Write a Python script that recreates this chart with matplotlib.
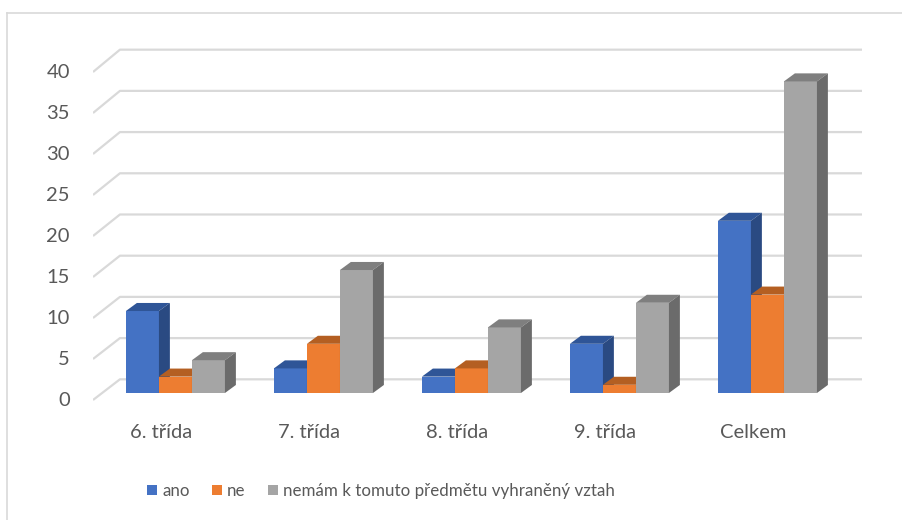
import numpy as np
import matplotlib
matplotlib.use("Agg")
from matplotlib import pyplot as plt
from matplotlib.patches import Polygon, Patch
from matplotlib.lines import Line2D

plt.rcParams['font.family'] = ['Lato', 'DejaVu Sans']

categories = ['6. třída', '7. třída', '8. třída', '9. třída', 'Celkem']
series = ['ano', 'ne', 'nemám k tomuto předmětu vyhraněný vztah']
ano = [10, 3, 2, 6, 21]
ne = [2, 6, 3, 1, 12]
nemam = [4, 15, 8, 11, 38]
values = [ano, ne, nemam]
yticks = [0, 5, 10, 15, 20, 25, 30, 35, 40]

front_cols = ['#4472C4', '#ED7D31', '#A5A5A5']
top_cols = ['#2F5597', '#B45F22', '#7F7F7F']
side_cols = ['#2A4A82', '#A9581F', '#6B6B6B']
text_col = '#595959'
grid_col = '#D9D9D9'

fig = plt.figure(figsize=(9.02, 5.2), dpi=100)
ax = fig.add_axes([93 / 902, 1 - 405 / 520, (862 - 93) / 902, (405 - 45) / 520])
ax.set_xlim(-0.557, 4.639)
ax.set_ylim(-1.463, 42.44)
ax.axis('off')

# 3d look: depth offsets in data units
dx, dy = 0.074, 0.98
w = 0.223

# gridlines on floor edge + back wall
for v in yticks:
    yb = 1.67 + v * 1.005
    yf = v - 0.854
    ax.plot([-0.557, -0.375, 4.639], [yf, yb, yb], color=grid_col, lw=1.6,
            zorder=1, solid_capstyle='butt')
    ax.text(-0.713, yf, str(v), ha='right', va='center', fontsize=14.5, color=text_col)

x = np.arange(len(categories))
for j, vals in enumerate(values):
    pos = x + (j - 1) * w
    ax.bar(pos, vals, width=w, color=front_cols[j], zorder=3 + j, linewidth=0)
    for p, h in zip(pos, vals):
        l, r = p - w / 2, p + w / 2
        ax.add_patch(Polygon([(l, h), (l + dx, h + dy), (r + dx, h + dy), (r, h)],
                             closed=True, facecolor=top_cols[j], lw=0, zorder=3 + j))
        ax.add_patch(Polygon([(r, 0), (r, h), (r + dx, h + dy), (r + dx, dy)],
                             closed=True, facecolor=side_cols[j], lw=0, zorder=3 + j))

for i, c in enumerate(categories):
    ax.text(i - 0.098, -4.76, c, ha='center', va='center', fontsize=14.5, color=text_col)

handles = [Patch(facecolor=front_cols[j], label=series[j]) for j in range(3)]
fig.legend(handles=handles, loc='center left', bbox_to_anchor=(147 / 902, 1 - 491 / 520),
           ncol=3, frameon=False, labelcolor=text_col, borderpad=0, fontsize=12.2,
           borderaxespad=0, handlelength=0.6, handleheight=0.6, handletextpad=0.3,
           columnspacing=1.3)

# chart border (top and left visible)
fig.add_artist(Line2D([7 / 902, 1], [1 - 13 / 520, 1 - 13 / 520], color=grid_col, lw=1.2))
fig.add_artist(Line2D([7 / 902, 7 / 902], [0, 1 - 13 / 520], color=grid_col, lw=1.2))

fig.savefig('out.png', dpi=100)
